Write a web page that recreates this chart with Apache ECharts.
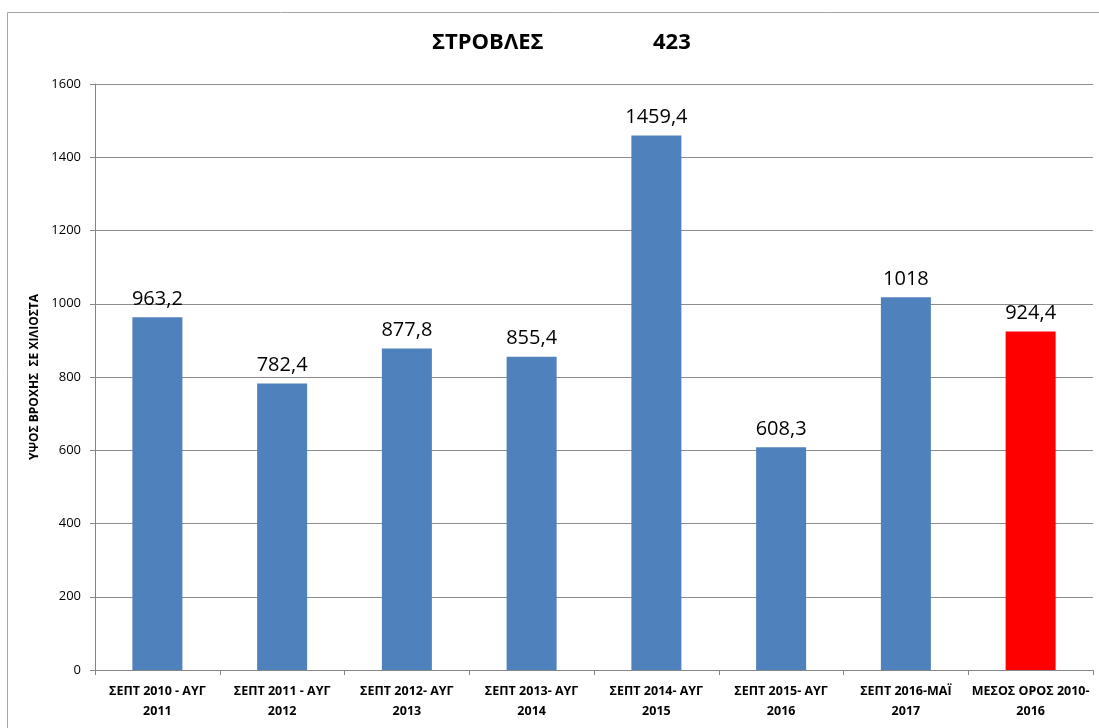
<!DOCTYPE html>
<html>
<head>
<meta charset="utf-8">
<script src="https://cdn.jsdelivr.net/npm/echarts@6/dist/echarts.min.js"></script>
<style>html,body{margin:0;padding:0;background:#fff}#c{width:1099px;height:728px}</style>
</head>
<body>
<div id="c"></div>
<script>
const categories = ['ΣΕΠΤ 2010 - ΑΥΓ\n2011','ΣΕΠΤ 2011 - ΑΥΓ\n2012','ΣΕΠΤ 2012- ΑΥΓ\n2013','ΣΕΠΤ 2013- ΑΥΓ\n2014','ΣΕΠΤ 2014- ΑΥΓ\n2015','ΣΕΠΤ 2015- ΑΥΓ\n2016','ΣΕΠΤ 2016-ΜΑΪ\n2017','ΜΕΣΟΣ ΟΡΟΣ 2010-\n2016'];
const values = [963.2, 782.4, 877.8, 855.4, 1459.4, 608.3, 1018, 924.4];
const barColors = ['#4F81BD','#4F81BD','#4F81BD','#4F81BD','#4F81BD','#4F81BD','#4F81BD','#FF0000'];
const titleName = 'ΣΤΡΟΒΛΕΣ';
const titleCode = '423';
const yAxisName = 'ΥΨΟΣ ΒΡΟΧΗΣ  ΣΕ ΧΙΛΙΟΣΤΑ';

const FONT = '"Open Sans", "Noto Sans", sans-serif';
const chart = echarts.init(document.getElementById('c'), null, {renderer:'canvas'});
chart.setOption({
  animation: false,
  backgroundColor: '#fff',
  graphic: [{
    type: 'rect', z: -1,
    shape: {x: 7.5, y: 12.5, width: 1200, height: 800},
    style: {fill: 'none', stroke: '#a6a6a6', lineWidth: 1}
  }],
  title: [
    {text: titleName, left: 427, top: 27, textStyle: {fontFamily: FONT, fontSize: 22, fontWeight: 'bold', color: '#000'}},
    {text: titleCode, left: 648, top: 27, textStyle: {fontFamily: FONT, fontSize: 22, fontWeight: 'bold', color: '#000'}}
  ],
  grid: {left: 95, right: 6, top: 84, bottom: 58},
  xAxis: {
    type: 'category',
    data: categories,
    axisLine: {lineStyle: {color: '#868686', width: 1}},
    axisTick: {show: true, length: 5, lineStyle: {color: '#868686'}},
    axisLabel: {fontFamily: FONT, fontSize: 12.5, fontWeight: 'bold', color: '#000', lineHeight: 20, margin: 11, interval: 0}
  },
  yAxis: {
    type: 'value', min: 0, max: 1600, interval: 200,
    name: yAxisName, nameLocation: 'middle', nameGap: 54, nameRotate: 90,
    nameTextStyle: {fontFamily: FONT, fontSize: 12, fontWeight: 'bold', color: '#000'},
    axisLine: {show: true, lineStyle: {color: '#868686', width: 1}},
    axisTick: {show: true, length: 5, lineStyle: {color: '#868686'}},
    axisLabel: {fontFamily: FONT, fontSize: 13, color: '#000', margin: 14, formatter: v => String(v)},
    splitLine: {lineStyle: {color: '#8c8c8c', width: 1}}
  },
  series: [{
    type: 'bar',
    data: values.map((v, i) => ({value: v, itemStyle: {color: barColors[i]}})),
    barWidth: 50,
    label: {
      show: true, position: 'top', distance: 8,
      fontFamily: FONT, fontSize: 20, color: '#000',
      formatter: p => String(p.value).replace('.', ',')
    }
  }]
});
</script>
</body>
</html>
